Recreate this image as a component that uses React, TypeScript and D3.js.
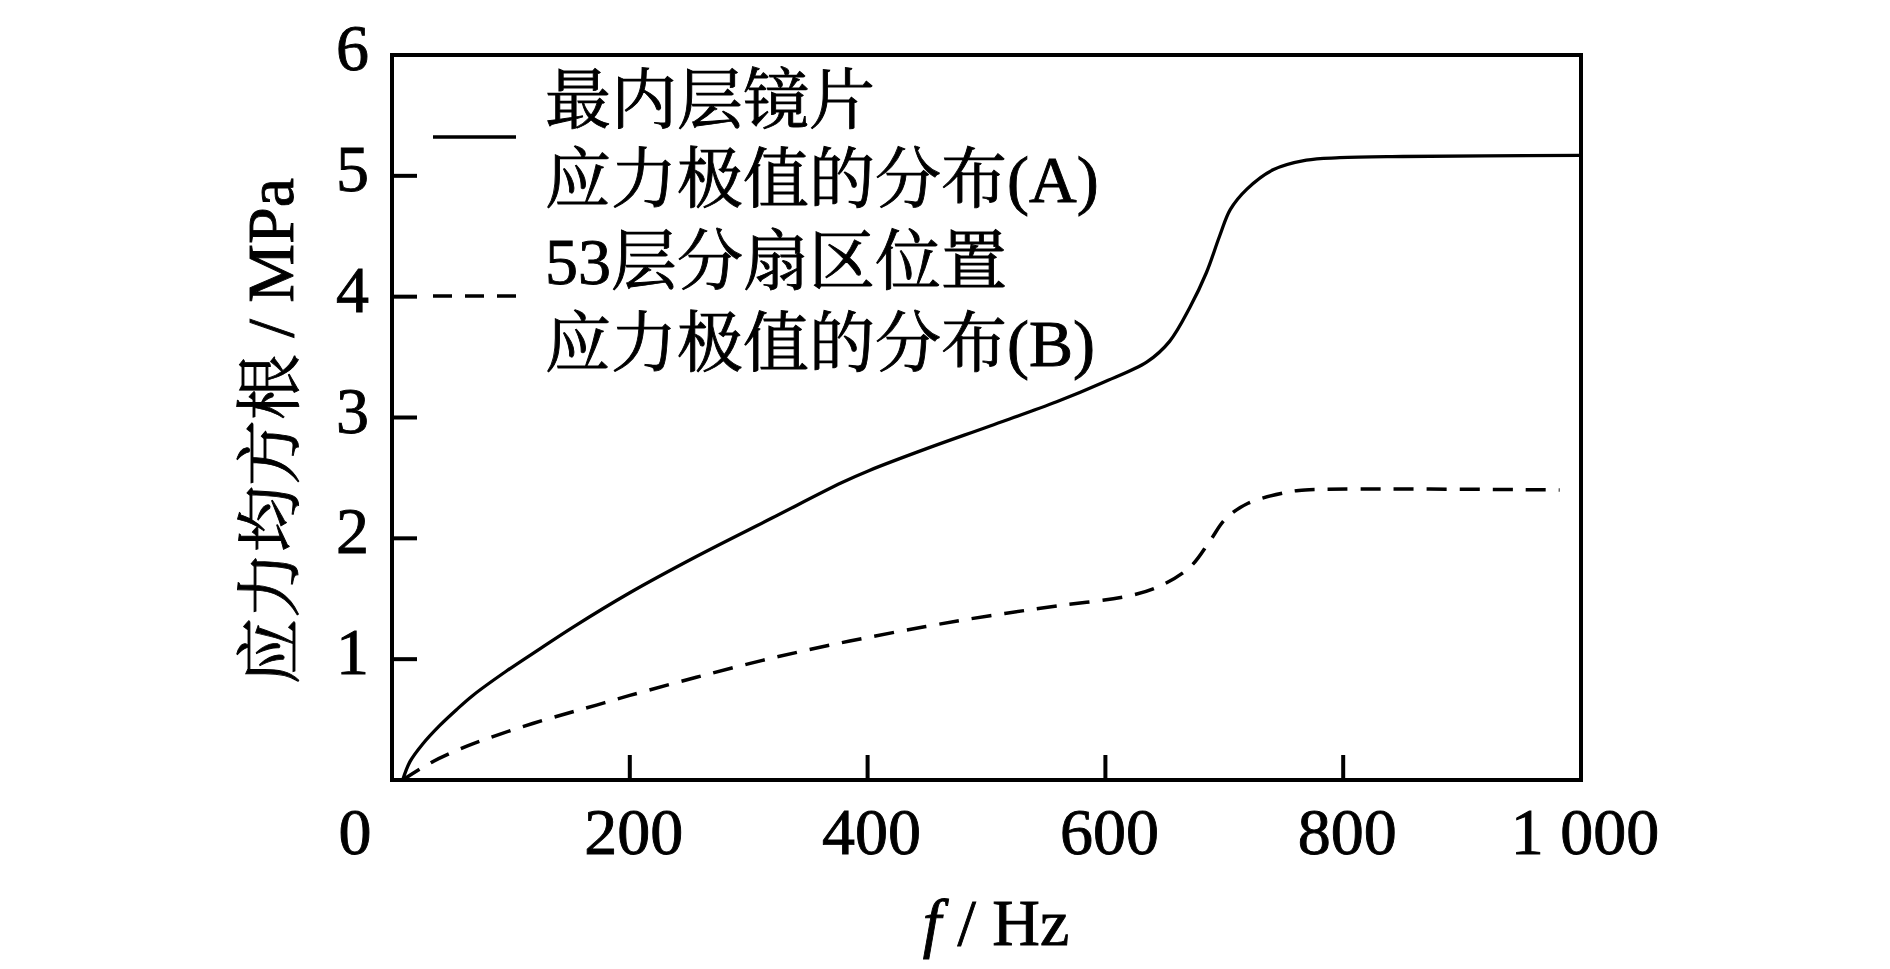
import React from "react";
import * as d3 from "d3";

// ---- data ----
const freqA = [9, 15, 26, 40, 54, 68, 96, 125, 153, 200, 256, 320, 378, 401, 449, 503, 559, 598, 635, 654, 671, 685, 696, 705, 719, 741, 769, 797, 850, 1000];
const stressA = [0, 0.15, 0.30, 0.45, 0.58, 0.70, 0.90, 1.09, 1.27, 1.55, 1.85, 2.17, 2.46, 2.56, 2.74, 2.93, 3.13, 3.29, 3.46, 3.63, 3.91, 4.20, 4.50, 4.72, 4.89, 5.05, 5.13, 5.15, 5.16, 5.17];

const freqB = [9, 32, 63, 91, 119, 147, 172, 200, 256, 320, 385, 449, 503, 559, 623, 649, 672, 688, 701, 720, 752, 768, 982];
const stressB = [0, 0.14, 0.28, 0.38, 0.47, 0.55, 0.62, 0.70, 0.85, 1.01, 1.15, 1.27, 1.36, 1.44, 1.53, 1.62, 1.77, 1.98, 2.16, 2.29, 2.38, 2.40, 2.40];

const xTicks = [0, 200, 400, 600, 800, 1000];
const xTickLabels = ["0", "200", "400", "600", "800", "1 000"];
const yTicks = [1, 2, 3, 4, 5, 6];
const yTickLabels = ["1", "2", "3", "4", "5", "6"];

const legendA = ["最内层镜片", "应力极值的分布(A)"];
const legendB = ["53层分扇区位置", "应力极值的分布(B)"];
const yTitle = "应力均方根 / MPa";

const FONT = "'Liberation Serif', 'Times New Roman', 'Noto Serif CJK SC', 'Noto Sans CJK SC', serif";

export default function App() {
  const W = 1890, H = 969;
  const left = 392, right = 1581, top = 55, bottom = 780;
  const x = d3.scaleLinear().domain([0, 1000]).range([left, right]);
  const y = d3.scaleLinear().domain([0, 6]).range([bottom, top]);

  const line = d3
    .line<[number, number]>()
    .x((d) => x(d[0]))
    .y((d) => y(d[1]))
    .curve(d3.curveCatmullRom.alpha(0.5));

  const dataA: [number, number][] = freqA.map((f, i) => [f, stressA[i]]);
  const dataB: [number, number][] = freqB.map((f, i) => [f, stressB[i]]);

  const tickLen = 25;
  const fs = 66;
  const txt = { fontSize: fs, fill: "#000", stroke: "#000", strokeWidth: 0.9 } as const;

  return (
    <svg
      width={W}
      height={H}
      viewBox={`0 0 ${W} ${H}`}
      style={{ position: "absolute", left: 0, top: 0, background: "#fff" }}
      fontFamily={FONT}
    >
      <rect x={0} y={0} width={W} height={H} fill="#fff" />

      {/* curves */}
      <path d={line(dataA) || ""} fill="none" stroke="#000" strokeWidth={3.3} />
      <path d={line(dataB) || ""} fill="none" stroke="#000" strokeWidth={3.5} strokeDasharray="20 13" />

      {/* frame */}
      <rect x={left} y={top} width={right - left} height={bottom - top} fill="none" stroke="#000" strokeWidth={4} />

      {/* y ticks (inward) */}
      {yTicks.filter((t) => t > 0 && t < 6).map((t) => (
        <line key={"yt" + t} x1={left} x2={left + tickLen} y1={y(t)} y2={y(t)} stroke="#000" strokeWidth={4} />
      ))}
      {/* x ticks (inward) */}
      {xTicks.filter((t) => t > 0 && t < 1000).map((t) => (
        <line key={"xt" + t} x1={x(t)} x2={x(t)} y1={bottom} y2={bottom - tickLen} stroke="#000" strokeWidth={4} />
      ))}

      {/* y tick labels */}
      {yTicks.map((t, i) => (
        <text key={"yl" + t} x={369} y={y(t) + 15} textAnchor="end" {...txt}>
          {yTickLabels[i]}
        </text>
      ))}
      {/* x tick labels */}
      {xTicks.map((t, i) => (
        <text
          key={"xl" + t}
          x={t === 0 ? x(t) - 37 : x(t) + 4}
          y={854}
          textAnchor="middle"
          {...txt}
        >
          {xTickLabels[i]}
        </text>
      ))}

      {/* axis titles */}
      <text x={996} y={945} textAnchor="middle" {...txt}>
        <tspan fontStyle="italic">f</tspan>
        <tspan> / Hz</tspan>
      </text>
      <text transform="translate(293,431) rotate(-90)" textAnchor="middle" {...txt}>
        {yTitle}
      </text>

      {/* legend */}
      <line x1={433} x2={516} y1={137} y2={137} stroke="#000" strokeWidth={3.3} />
      <line x1={433} x2={517} y1={296} y2={296} stroke="#000" strokeWidth={3.5} strokeDasharray="19 13" />
      <text x={545} y={123} {...txt}>{legendA[0]}</text>
      <text x={545} y={202} {...txt}>{legendA[1]}</text>
      <text x={545} y={284} {...txt}>{legendB[0]}</text>
      <text x={545} y={366} {...txt}>{legendB[1]}</text>
    </svg>
  );
}
